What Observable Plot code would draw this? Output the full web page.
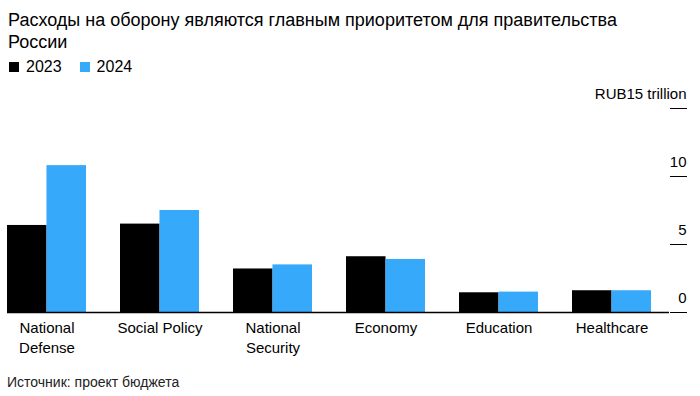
<!DOCTYPE html>
<html>
<head>
<meta charset="utf-8">
<script src="https://cdn.jsdelivr.net/npm/d3@7"></script>
<script src="https://cdn.jsdelivr.net/npm/@observablehq/plot@0.6"></script>
<style>
  body { margin: 0; background: #fff; font-family: "Liberation Sans", Arial, sans-serif; color: #000; }
  #wrap { position: relative; width: 700px; height: 396px; overflow: hidden; }
  #title { position: absolute; left: 8px; top: 9px; font-size: 18px; line-height: 22px; }
  #legend { position: absolute; left: 9px; top: 59px; font-size: 16px; line-height: 16px; display: flex; align-items: center; }
  #legend .sw { display: inline-block; width: 10px; height: 10px; margin-right: 7px; }
  #legend .item { display: flex; align-items: center; margin-right: 18px; }
  #chart { position: absolute; left: 0; top: 80px; }
  #caption { position: absolute; left: 7px; top: 374px; font-size: 14px; line-height: 16px; color: #222; }
</style>
</head>
<body>
<div id="wrap">
  <div id="title">Расходы на оборону являются главным приоритетом для правительства<br>России</div>
  <div id="legend"></div>
  <div id="chart"></div>
  <div id="caption">Источник: проект бюджета</div>
</div>
<script>
const categories = ["National Defense", "Social Policy", "National Security", "Economy", "Education", "Healthcare"];
const categoryLabels = ["National\nDefense", "Social Policy", "National\nSecurity", "Economy", "Education", "Healthcare"];
const years = ["2023", "2024"];
const values2023 = [6.4, 6.5, 3.2, 4.1, 1.45, 1.6];
const values2024 = [10.8, 7.5, 3.5, 3.9, 1.5, 1.6];
const yTicks = [0, 5, 10, 15];
const yTickLabels = ["0", "5", "10", "RUB15 trillion"];
const colors = ["#000000", "#36a9fb"];

// legend
const legend = document.getElementById("legend");
years.forEach((y, i) => {
  const it = document.createElement("span");
  it.className = "item";
  it.innerHTML = `<span class="sw" style="background:${colors[i]}"></span>${y}`;
  legend.appendChild(it);
});

const W = 700, H = 282, ML = 7, MR = 31, MT = 28, MB = 50;
const padIn = 0.303, padOut = 0.073;
const step = (W - ML - MR) / (categories.length - padIn + 2 * padOut);
const bw = step * (1 - padIn);

const d2023 = categories.map((c, i) => ({category: c, value: values2023[i]}));
const d2024 = categories.map((c, i) => ({category: c, value: values2024[i]}));

const chart = Plot.plot({
  width: W,
  height: H,
  marginLeft: ML,
  marginRight: MR,
  marginTop: MT,
  marginBottom: MB,
  style: {fontFamily: "'Liberation Sans', Arial, sans-serif", fontSize: "15px", color: "#000", background: "#fff"},
  x: {domain: categories, paddingInner: padIn, paddingOuter: padOut, align: 0},
  y: {domain: [0, 15]},
  marks: [
    Plot.barY(d2023, {x: "category", y: "value", fill: colors[0], insetRight: bw / 2}),
    Plot.barY(d2024, {x: "category", y: "value", fill: colors[1], insetLeft: bw / 2}),
    Plot.ruleY([0], {stroke: "#000", strokeWidth: 1.5}),
    Plot.axisY({
      anchor: "right", ticks: yTicks, tickSize: 17, text: null, label: null, stroke: "#000"
    }),
    Plot.text(yTicks, {
      y: (d) => d, text: (d) => yTickLabels[yTicks.indexOf(d)],
      frameAnchor: "right", dx: 17, dy: -14, textAnchor: "end", fontSize: 15, fill: "#000"
    }),
    Plot.axisX({
      anchor: "bottom", tickSize: 0, tickPadding: 6, fontSize: 15, lineHeight: 1.33,
      tickFormat: (d) => categoryLabels[categories.indexOf(d)], label: null
    })
  ]
});
document.getElementById("chart").appendChild(chart);
</script>
</body>
</html>
